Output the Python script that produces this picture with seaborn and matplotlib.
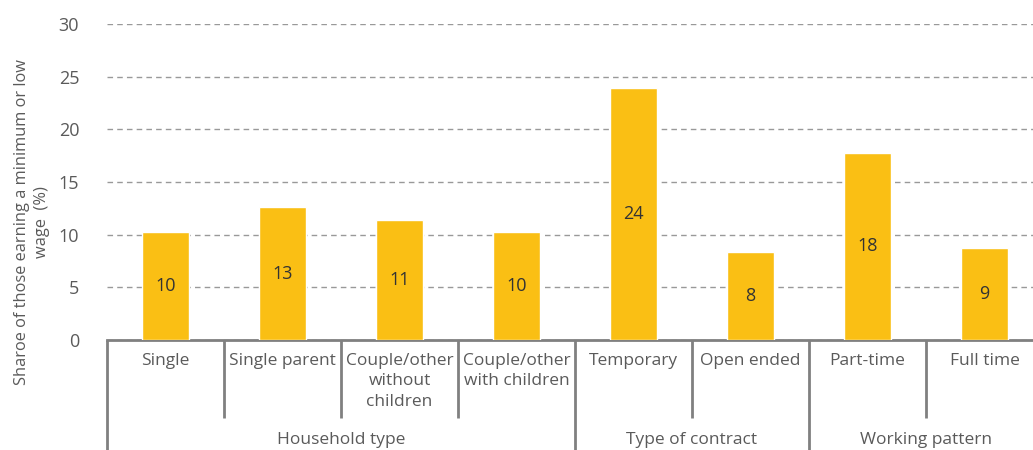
import matplotlib
matplotlib.use("Agg")
import matplotlib.pyplot as plt
import matplotlib.transforms as mtransforms
import seaborn as sns
import pandas as pd

# data
categories = ["Single", "Single parent", "Couple/other\nwithout\nchildren",
              "Couple/other\nwith children", "Temporary", "Open ended",
              "Part-time", "Full time"]
shares = [10.3, 12.6, 11.4, 10.3, 23.9, 8.4, 17.8, 8.7]
groups = ["Household type", "Type of contract", "Working pattern"]
group_sizes = [4, 2, 2]

bar_color = "#FABF14"
text_color = "#5a5a5a"
line_color = "#808080"

sns.set_style("white")
plt.rcParams['font.family'] = ['Open Sans', 'DejaVu Sans']

df = pd.DataFrame({"category": categories, "share": shares})

fig = plt.figure(figsize=(10.33, 4.5), dpi=100)
# axes runs a little past the right edge, as in the reference
ax = fig.add_axes([107 / 1033, 1 - 340 / 450, 936 / 1033, 316 / 450])

sns.barplot(data=df, x="category", y="share", color=bar_color,
            width=0.4, saturation=1, ax=ax, zorder=3)

ax.set_ylim(0, 30)
ax.set_xlim(-0.5, len(categories) - 0.5)
ax.set_yticks(range(0, 31, 5))
ax.yaxis.grid(True, linestyle=(0, (4, 3)), color="#999999", linewidth=1)
ax.set_axisbelow(True)
ax.tick_params(axis="y", length=0, labelsize=13, labelcolor=text_color, pad=20)
ax.tick_params(axis="x", length=0)
ax.set_xticklabels([])
ax.set_xlabel("")
ax.set_ylabel("")
fig.text(32 / 1033, 1 - 222 / 450,
         "Sharoe of those earning a minimum or low\nwage  (%)",
         rotation=90, ha="center", va="center", multialignment="center",
         color=text_color, fontsize=11.8, linespacing=1.35)

for s in ["left", "right", "top"]:
    ax.spines[s].set_visible(False)
ax.spines["bottom"].set_color(line_color)
ax.spines["bottom"].set_linewidth(2)

# value labels in the middle of each bar
for i, v in enumerate(shares):
    ax.text(i, v / 2, f"{v:.0f}", ha="center", va="center",
            fontsize=13, color="#333333")

# multi-level category axis
trans = mtransforms.blended_transform_factory(ax.transData, ax.transAxes)
for i, lab in enumerate(categories):
    ax.text(i, -0.042, lab, transform=trans, ha="center", va="top",
            fontsize=12.5, color=text_color, linespacing=1.35)

start = 0
group_edges = [-0.5]
for g, n in zip(groups, group_sizes):
    ax.text(start + (n - 1) / 2, -0.318, g, transform=trans, ha="center",
            va="center", fontsize=12.5, color=text_color)
    start += n
    group_edges.append(start - 0.5)

for k in range(len(categories) + 1):
    x = k - 0.5
    y_end = -0.35 if x in group_edges else -0.247
    ax.plot([x, x], [0, y_end], transform=trans, color=line_color,
            linewidth=2, clip_on=False, solid_capstyle="butt")

fig.savefig("out.png", dpi=100)
